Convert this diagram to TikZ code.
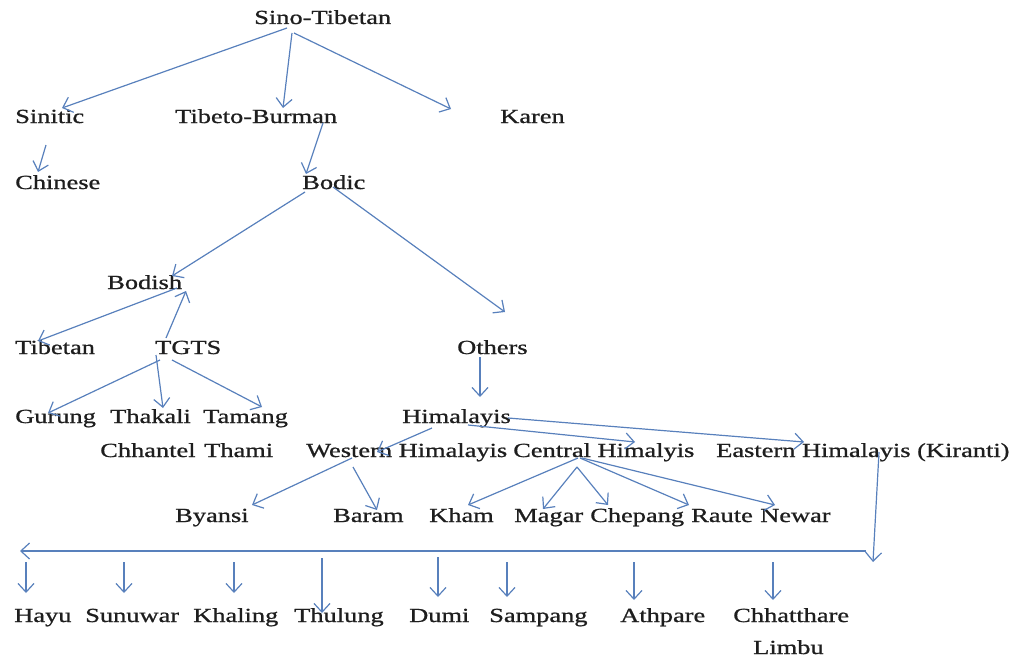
\documentclass[tikz,border=0pt]{standalone}
\usepackage{fontspec}
\setmainfont{Liberation Serif}[FakeStretch=1.32,FakeBold=0.9]
\usetikzlibrary{arrows.meta,calc}
\definecolor{arrc}{RGB}{88,128,188}
\definecolor{txt}{RGB}{30,30,30}
\begin{document}
\begin{tikzpicture}[x=0.75pt,y=-0.75pt,
  lbl/.style={anchor=base west, inner sep=0pt, text=txt, font=\fontsize{15}{18}\selectfont},
  arr/.style={draw=arrc, line width=0.9pt, -{Straight Barb[length=6.5pt,width=12pt]}},
  ln/.style={draw=arrc, line width=0.9pt}]
\useasboundingbox (0,0) rectangle (1021,667);
% nodes
\node[lbl] (st) at (254,24) {Sino-Tibetan};
\node[lbl] (sin) at (15,123) {Sinitic};
\node[lbl] (tb) at (175,123) {Tibeto-Burman};
\node[lbl] (kar) at (500,123) {Karen};
\node[lbl] (chi) at (15,189) {Chinese};
\node[lbl] (bod) at (302,189) {Bodic};
\node[lbl] (bsh) at (107,289) {Bodish};
\node[lbl] (tib) at (15,354) {Tibetan};
\node[lbl] (tgts) at (155,354) {TGTS};
\node[lbl] (oth) at (457,354) {Others};
\node[lbl] (gur) at (15,423) {Gurung};
\node[lbl] (tha) at (110,423) {Thakali};
\node[lbl] (tam) at (203,423) {Tamang};
\node[lbl] (him) at (402,423) {Himalayis};
\node[lbl] (chh) at (100,457) {Chhantel};
\node[lbl] (thm) at (204,457) {Thami};
\node[lbl] (wh) at (306,457) {Western Himalayis};
\node[lbl] (ch) at (513,457) {Central Himalyis};
\node[lbl] (eh) at (716,457) {Eastern Himalayis (Kiranti)};
\node[lbl] (bya) at (175,522) {Byansi};
\node[lbl] (bar) at (333,522) {Baram};
\node[lbl] (kha) at (429,522) {Kham};
\node[lbl] (mag) at (514,522) {Magar};
\node[lbl] (che) at (590,522) {Chepang};
\node[lbl] (rau) at (691,522) {Raute};
\node[lbl] (new) at (760,522) {Newar};
\node[lbl] (hay) at (14,622) {Hayu};
\node[lbl] (sun) at (85,622) {Sunuwar};
\node[lbl] (khl) at (193,622) {Khaling};
\node[lbl] (thu) at (294,622) {Thulung};
\node[lbl] (dum) at (409,622) {Dumi};
\node[lbl] (sam) at (489,622) {Sampang};
\node[lbl] (ath) at (620,622) {Athpare};
\node[lbl] (cht) at (733,622) {Chhatthare};
\node[lbl] (lim) at (753,654) {Limbu};
\coordinate (kirTip) at (873,562);
\coordinate (hR) at (866,551);
\coordinate (hL) at (20,551);
% connectors
\draw[arr] ($(st.base west)+(33,4)$) -- ($(sin.base west)+(47,-15)$);
\draw[arr] ($(st.base west)+(38,9)$) -- ($(tb.base west)+(108,-15)$);
\draw[arr] ($(st.base west)+(40,9)$) -- ($(kar.base west)+(-49,-14)$);
\draw[arr] ($(sin.base west)+(31,22)$) -- ($(chi.base west)+(23,-17)$);
\draw[arr] ($(tb.base west)+(148,0)$) -- ($(bod.base west)+(4,-15)$);
\draw[arr] ($(bod.base west)+(3,3)$) -- ($(bsh.base west)+(65,-13)$);
\draw[arr] ($(bod.base west)+(31,-2)$) -- ($(oth.base west)+(48,-42)$);
\draw[arr] ($(bsh.base west)+(70,-1)$) -- ($(tib.base west)+(23,-13)$);
\draw[arr] ($(tgts.base west)+(11,-16)$) -- ($(bsh.base west)+(79,2)$);
\draw[arr] ($(tgts.base west)+(5,6)$) -- ($(gur.base west)+(33,-10)$);
\draw[arr] ($(tgts.base west)+(1,1)$) -- ($(tha.base west)+(53,-15)$);
\draw[arr] ($(tgts.base west)+(17,6)$) -- ($(tam.base west)+(59,-16)$);
\draw[arr] ($(oth.base west)+(23,3)$) -- ($(him.base west)+(78,-26)$);
\draw[arr] ($(him.base west)+(30,5)$) -- ($(wh.base west)+(71,-5)$);
\draw[arr] ($(him.base west)+(66,2)$) -- ($(ch.base west)+(122,-15)$);
\draw[arr] ($(him.base west)+(106,-5)$) -- ($(eh.base west)+(88,-15)$);
\draw[arr] ($(wh.base west)+(46,1)$) -- ($(bya.base west)+(77,-17)$);
\draw[arr] ($(wh.base west)+(47,10)$) -- ($(bar.base west)+(44,-12)$);
\draw[arr] ($(ch.base west)+(65,1)$) -- ($(kha.base west)+(39,-17)$);
\draw[arr] ($(ch.base west)+(64,10)$) -- ($(mag.base west)+(29,-13)$);
\draw[arr] ($(ch.base west)+(64,10)$) -- ($(che.base west)+(18,-17)$);
\draw[arr] ($(ch.base west)+(67,1)$) -- ($(rau.base west)+(-2,-17)$);
\draw[arr] ($(ch.base west)+(69,1)$) -- ($(new.base west)+(15,-17)$);
\draw[arr] ($(eh.base west)+(163,-5)$) -- (kirTip);
\draw[arr] (hR) -- (hL);
\draw[arr] ($(hay.base west)+(12,-60)$) -- ($(hay.base west)+(12,-29)$);
\draw[arr] ($(sun.base west)+(39,-60)$) -- ($(sun.base west)+(39,-29)$);
\draw[arr] ($(khl.base west)+(41,-60)$) -- ($(khl.base west)+(41,-29)$);
\draw[arr] ($(thu.base west)+(28,-64)$) -- ($(thu.base west)+(28,-9)$);
\draw[arr] ($(dum.base west)+(29,-65)$) -- ($(dum.base west)+(29,-25)$);
\draw[arr] ($(sam.base west)+(18,-60)$) -- ($(sam.base west)+(18,-25)$);
\draw[arr] ($(ath.base west)+(14,-60)$) -- ($(ath.base west)+(14,-22)$);
\draw[arr] ($(cht.base west)+(40,-60)$) -- ($(cht.base west)+(40,-22)$);
\end{tikzpicture}
\end{document}
